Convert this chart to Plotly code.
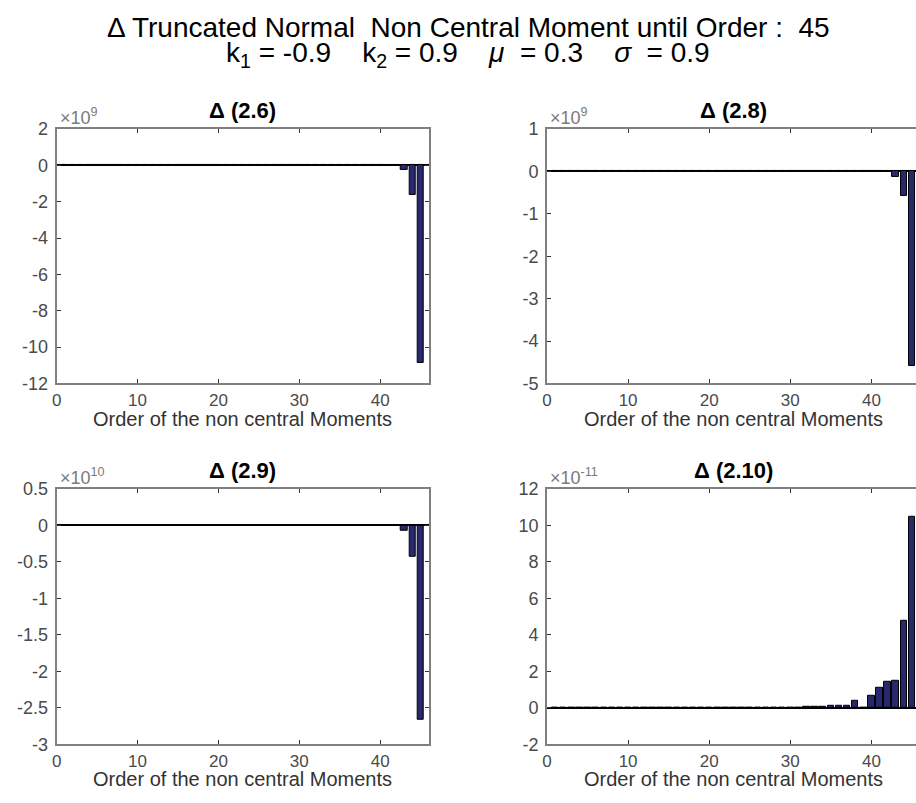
import plotly.graph_objects as go

# Moment order on the x axis
orders = list(range(1, 46))

# Differences per moment order, expressed in the mantissa of each panel's scale
delta_2_6 = [0.0, 0.0, 0.0, 0.0, 0.0, 0.0, 0.0, 0.0, 0.0, 0.0,
             0.0, 0.0, 0.0, 0.0, 0.0, 0.0, 0.0, 0.0, 0.0, 0.0,
             0.0, 0.0, 0.0, 0.0, 0.0, 0.0, 0.0, 0.0, 0.0, 0.0,
             0.0, 0.0, 0.0, 0.0, 0.0, 0.0, 0.0, 0.0, 0.0, 0.0,
             -0.01, -0.05, -0.28, -1.64, -10.87]          # x 1e9
delta_2_8 = [0.0, 0.0, 0.0, 0.0, 0.0, 0.0, 0.0, 0.0, 0.0, 0.0,
             0.0, 0.0, 0.0, 0.0, 0.0, 0.0, 0.0, 0.0, 0.0, 0.0,
             0.0, 0.0, 0.0, 0.0, 0.0, 0.0, 0.0, 0.0, 0.0, 0.0,
             0.0, 0.0, 0.0, 0.0, 0.0, 0.0, 0.0, 0.0, 0.0, 0.0,
             0.0, -0.02, -0.12, -0.58, -4.59]             # x 1e9
delta_2_9 = [0.0, 0.0, 0.0, 0.0, 0.0, 0.0, 0.0, 0.0, 0.0, 0.0,
             0.0, 0.0, 0.0, 0.0, 0.0, 0.0, 0.0, 0.0, 0.0, 0.0,
             0.0, 0.0, 0.0, 0.0, 0.0, 0.0, 0.0, 0.0, 0.0, 0.0,
             0.0, 0.0, 0.0, 0.0, 0.0, 0.0, 0.0, 0.0, 0.0, 0.0,
             0.0, -0.01, -0.08, -0.43, -2.67]             # x 1e10
delta_2_10 = [0.0, 0.0, 0.0, 0.0, 0.0, 0.0, 0.0, 0.0, 0.0, 0.0,
              0.0, 0.0, 0.0, 0.0, 0.0, 0.0, 0.0, 0.0, 0.0, 0.0,
              0.0, 0.0, 0.0, 0.0, 0.0, 0.0, 0.0, 0.0, 0.0, 0.01,
              0.02, 0.03, 0.04, 0.06, 0.1, 0.1, 0.12, 0.37, 0.0, 0.68,
              1.09, 1.44, 1.5, 4.74, 10.45]                # x 1e-11

panel_titles = ["\u0394 (2.6)", "\u0394 (2.8)", "\u0394 (2.9)", "\u0394 (2.10)"]
panel_exponents = ["9", "9", "10", "-11"]
y_ticks_2_6 = [-12, -10, -8, -6, -4, -2, 0, 2]
y_ticks_2_8 = [-5, -4, -3, -2, -1, 0, 1]
y_ticks_2_9 = [-3, -2.5, -2, -1.5, -1, -0.5, 0, 0.5]
y_ticks_2_10 = [-2, 0, 2, 4, 6, 8, 10, 12]
x_ticks = [0, 10, 20, 30, 40]
x_label = "Order of the non central Moments"

W, H = 916, 803
X_FULL = 46  # full x extent of every panel (right column runs past the page edge)


def px_x(p):
    return p / W


def px_y(p):
    return 1 - p / H


panels = [
    dict(values=delta_2_6, ticks=y_ticks_2_6, xdom=[52, 426], ydom=[122, 383], xmax=46, right=False),
    dict(values=delta_2_8, ticks=y_ticks_2_8, xdom=[545, 916], ydom=[122, 383], xmax=45.5, right=True),
    dict(values=delta_2_9, ticks=y_ticks_2_9, xdom=[52, 426], ydom=[491, 753], xmax=46, right=False),
    dict(values=delta_2_10, ticks=y_ticks_2_10, xdom=[545, 916], ydom=[491, 753], xmax=45.5, right=True),
]

FONT = "Liberation Sans, Arial, Helvetica, sans-serif"
BAR_FILL = "#28286c"
FRAME = "#808080"
TICK_TEXT = "#4a4a4a"

fig = go.Figure()
layout_axes = {}
annotations = []

for i, p in enumerate(panels):
    n = i + 1
    xa = "x" if n == 1 else f"x{n}"
    ya = "y" if n == 1 else f"y{n}"
    xkey = "xaxis" if n == 1 else f"xaxis{n}"
    ykey = "yaxis" if n == 1 else f"yaxis{n}"

    fig.add_trace(go.Bar(
        x=orders, y=p["values"], width=0.8,
        marker=dict(color=BAR_FILL, line=dict(color="black", width=1)),
        xaxis=xa, yaxis=ya, showlegend=False,
    ))

    layout_axes[xkey] = dict(
        domain=[px_x(p["xdom"][0]), px_x(p["xdom"][1])],
        anchor=ya, range=[0, p["xmax"]],
        tickmode="array", tickvals=x_ticks, ticktext=[str(t) for t in x_ticks],
        showline=True, linecolor=FRAME, linewidth=2, mirror="ticks",
        ticks="inside", ticklen=4, tickcolor="#333333", tickwidth=1,
        tickfont=dict(family=FONT, size=17, color=TICK_TEXT),
        showgrid=False, zeroline=False, fixedrange=True,
    )
    lo, hi = p["ticks"][0], p["ticks"][-1]
    layout_axes[ykey] = dict(
        domain=[px_y(p["ydom"][1]), px_y(p["ydom"][0])],
        anchor=xa, range=[lo, hi],
        tickmode="array", tickvals=p["ticks"], ticktext=[f"{t:g}" for t in p["ticks"]],
        showline=True, linecolor=FRAME, linewidth=2,
        mirror=False if p["right"] else "ticks",
        ticks="inside", ticklen=4, tickcolor="#333333", tickwidth=1,
        ticklabelstandoff=3,
        tickfont=dict(family=FONT, size=18, color=TICK_TEXT),
        showgrid=False, zeroline=True, zerolinecolor="black", zerolinewidth=2,
        fixedrange=True,
    )

    ppu = (p["xdom"][1] - p["xdom"][0]) / p["xmax"]
    cx = p["xdom"][0] + ppu * X_FULL / 2
    top = p["ydom"][0]
    bottom = p["ydom"][1]

    # panel title
    annotations.append(dict(
        text=f"<b>{panel_titles[i]}</b>", x=px_x(cx), y=px_y(top - 19),
        xref="paper", yref="paper", xanchor="center", yanchor="middle",
        showarrow=False, font=dict(family=FONT, size=22, color="black"),
    ))
    # scale factor
    annotations.append(dict(
        text=f"\u00d710<sup>{panel_exponents[i]}</sup>", x=px_x(p["xdom"][0] + 1), y=px_y(top - 13),
        xref="paper", yref="paper", xanchor="left", yanchor="middle",
        showarrow=False, font=dict(family=FONT, size=18, color="#7a7a7a"),
    ))
    # x axis label
    annotations.append(dict(
        text=x_label, x=px_x(cx), y=px_y(bottom + 36),
        xref="paper", yref="paper", xanchor="center", yanchor="middle",
        showarrow=False, font=dict(family=FONT, size=20, color="#333333"),
    ))

# figure heading
annotations.append(dict(
    text="\u0394 Truncated Normal\u00a0 Non Central Moment until Order :\u00a0 45",
    x=px_x(466), y=px_y(18), xref="paper", yref="paper",
    xanchor="center", yanchor="middle", showarrow=False,
    font=dict(family=FONT, size=28, color="black"),
))
annotations.append(dict(
    text="k<sub>1</sub> = -0.9\u00a0\u00a0\u00a0 k<sub>2</sub> = 0.9\u00a0\u00a0\u00a0 <i>\u03bc</i>\u00a0 = 0.3\u00a0\u00a0\u00a0 <i>\u03c3</i>\u00a0 = 0.9",
    x=px_x(466), y=px_y(46), xref="paper", yref="paper",
    xanchor="center", yanchor="middle", showarrow=False,
    font=dict(family=FONT, size=28, color="black"),
))

fig.update_layout(
    width=W, height=H,
    margin=dict(l=0, r=0, t=0, b=0),
    paper_bgcolor="white", plot_bgcolor="white",
    bargap=0, annotations=annotations,
    **layout_axes,
)

fig.write_html("out.html", config={"displayModeBar": False})
